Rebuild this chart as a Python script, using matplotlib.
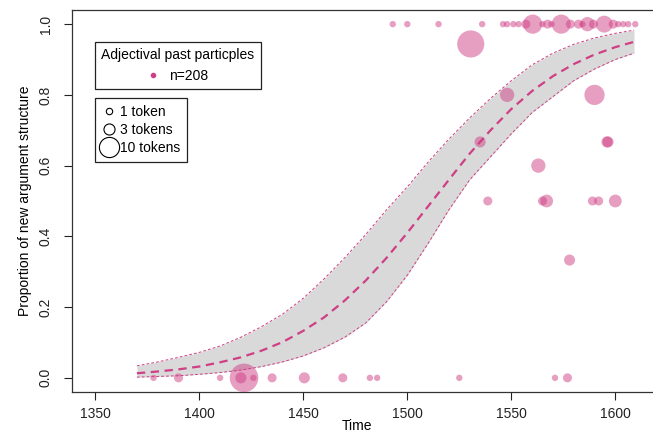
import matplotlib
matplotlib.use("Agg")
import matplotlib.pyplot as plt
from matplotlib.lines import Line2D
import numpy as np

plt.rcParams['font.family'] = ['Liberation Sans', 'DejaVu Sans']
plt.rcParams['lines.scale_dashes'] = False

# ---- data ----
# fitted curve and confidence band, read at 10-year steps
fit_years = [1370, 1380, 1390, 1400, 1410, 1420, 1430, 1440, 1450, 1460, 1470, 1480, 1490,
             1500, 1510, 1520, 1530, 1540, 1550, 1560, 1570, 1580, 1590, 1600, 1609]
fit_center = [0.013, 0.018, 0.024, 0.032, 0.044, 0.058, 0.077, 0.101, 0.133, 0.171, 0.219, 0.275, 0.339,
              0.410, 0.485, 0.560, 0.634, 0.700, 0.760, 0.811, 0.853, 0.887, 0.914, 0.935, 0.950]
fit_upper = [0.034, 0.045, 0.058, 0.072, 0.090, 0.115, 0.145, 0.180, 0.225, 0.280, 0.340, 0.405, 0.475,
             0.540, 0.610, 0.675, 0.735, 0.790, 0.840, 0.885, 0.918, 0.943, 0.961, 0.974, 0.983]
fit_lower = [0.002, 0.004, 0.006, 0.010, 0.015, 0.022, 0.032, 0.045, 0.062, 0.085, 0.115, 0.155, 0.215,
             0.290, 0.380, 0.475, 0.560, 0.625, 0.690, 0.750, 0.795, 0.840, 0.873, 0.900, 0.918]

# observed points: year, proportion, number of tokens
pt_year = [1378, 1390, 1410, 1420, 1421.5, 1426, 1435, 1450.5, 1469, 1482, 1485.5, 1525, 1571, 1577,
           1493, 1500, 1515, 1536, 1546, 1548, 1551, 1553.5, 1557, 1560.3, 1565, 1567.4, 1569.3,
           1574, 1578.4, 1582.3, 1584.2, 1586.6, 1589.5, 1594.7, 1599, 1601.4, 1603.8, 1606.2, 1609.6,
           1530.5, 1548, 1590, 1596, 1596.5, 1563, 1535, 1538.7, 1565, 1567, 1589, 1592, 1600, 1578]
pt_prop = [0, 0, 0, 0, 0, 0, 0, 0, 0, 0, 0, 0, 0, 0,
           1, 1, 1, 1, 1, 1, 1, 1, 1, 1, 1, 1, 1,
           1, 1, 1, 1, 1, 1, 1, 1, 1, 1, 1, 1,
           0.944, 0.80, 0.80, 0.667, 0.667, 0.60, 0.667, 0.5, 0.5, 0.5, 0.5, 0.5, 0.5, 0.333]
pt_tokens = [1, 2, 1, 3, 20, 1, 2, 3, 2, 1, 1, 1, 1, 2,
             1, 1, 1, 1, 1, 1, 1, 1, 2, 9, 1, 2, 1,
             9, 2, 2, 1, 5, 2, 7, 2, 1, 1, 1, 1,
             18, 5, 10, 3, 3, 5, 3, 2, 2, 4, 2, 2, 4, 3]

x_ticks = [1350, 1400, 1450, 1500, 1550, 1600]
y_ticks = [0.0, 0.2, 0.4, 0.6, 0.8, 1.0]
legend_sizes = [1, 3, 10]
legend_labels = ["1 token", "3 tokens", "10 tokens"]

PINK = '#cf3f85'
W, H = 653, 432

fig = plt.figure(figsize=(W / 100, H / 100), dpi=100)
# axes box in pixels (the right side runs past the image edge as in the reference)
left_px, right_px, top_px, bottom_px = 72, 701, 10, 392
ax = fig.add_axes([left_px / W, 1 - bottom_px / H, (right_px - left_px) / W, (bottom_px - top_px) / H])
ax.set_xlim(1338.8, 1641.2)
ax.set_ylim(-0.04, 1.04)

ax.fill_between(fit_years, fit_lower, fit_upper, color='#d9d9d9', lw=0, zorder=1)
ax.plot(fit_years, fit_upper, color=PINK, lw=0.7, dashes=(2, 1.5), zorder=2)
ax.plot(fit_years, fit_lower, color=PINK, lw=0.7, dashes=(2, 1.5), zorder=2)
ax.plot(fit_years, fit_center, color=PINK, lw=1.6, dashes=(6, 4), zorder=3)

sizes = [21.2 * n for n in pt_tokens]
ax.scatter(pt_year, pt_prop, s=sizes, color=PINK, alpha=0.5, lw=0, zorder=4)

ax.set_xticks(x_ticks)
ax.set_yticks(y_ticks)
ax.set_xticklabels([str(v) for v in x_ticks])
ax.set_yticklabels([f"{v:.1f}" for v in y_ticks], rotation=90, va='center')
ax.tick_params(direction='out', length=6, width=0.8, labelsize=10, colors='#222222')
ax.tick_params(axis='y', pad=8)
ax.tick_params(axis='x', pad=5)
for sp in ax.spines.values():
    sp.set_linewidth(0.9)
    sp.set_color('#333333')

fig.text(357 / W, 1 - 426 / H, "Time", ha='center', va='center', fontsize=10)
fig.text(25 / W, 1 - 201 / H, "Proportion of new argument structure", rotation=90,
         ha='center', va='center', fontsize=10)

# legend 1
h1 = [Line2D([], [], ls='none', marker='o', markersize=4, color=PINK, markeredgewidth=0)]
leg1 = ax.legend(h1, ["n=208"], title="Adjectival past particples", loc='upper left',
                 bbox_to_anchor=(95 / W, 1 - 42 / H), bbox_transform=fig.transFigure,
                 fancybox=False, framealpha=1, edgecolor='#222222', fontsize=10,
                 title_fontsize=10, borderpad=0.45, handlelength=0.8, handletextpad=0.7,
                 borderaxespad=0)
leg1.get_frame().set_linewidth(0.9)
leg1._legend_box.sep = 5
ax.add_artist(leg1)

# legend 2
h2 = [Line2D([], [], ls='none', marker='o', markerfacecolor='none', markeredgecolor='black',
             markeredgewidth=0.8, markersize=4.6 * np.sqrt(n)) for n in legend_sizes]
leg2 = ax.legend(h2, legend_labels, loc='upper left',
                 bbox_to_anchor=(95 / W, 1 - 98 / H), bbox_transform=fig.transFigure,
                 fancybox=False, framealpha=1, edgecolor='#222222', fontsize=10,
                 borderpad=0.5, handlelength=1.0, handletextpad=0.3, labelspacing=0.3,
                 borderaxespad=0, borderaxespad_=None) if False else ax.legend(
                 h2, legend_labels, loc='upper left',
                 bbox_to_anchor=(95 / W, 1 - 98 / H), bbox_transform=fig.transFigure,
                 fancybox=False, framealpha=1, edgecolor='#222222', fontsize=10,
                 borderpad=0.5, handlelength=1.0, handletextpad=0.3, labelspacing=0.3,
                 borderaxespad=0)
leg2.get_frame().set_linewidth(0.9)

fig.savefig("out.png", dpi=100)
